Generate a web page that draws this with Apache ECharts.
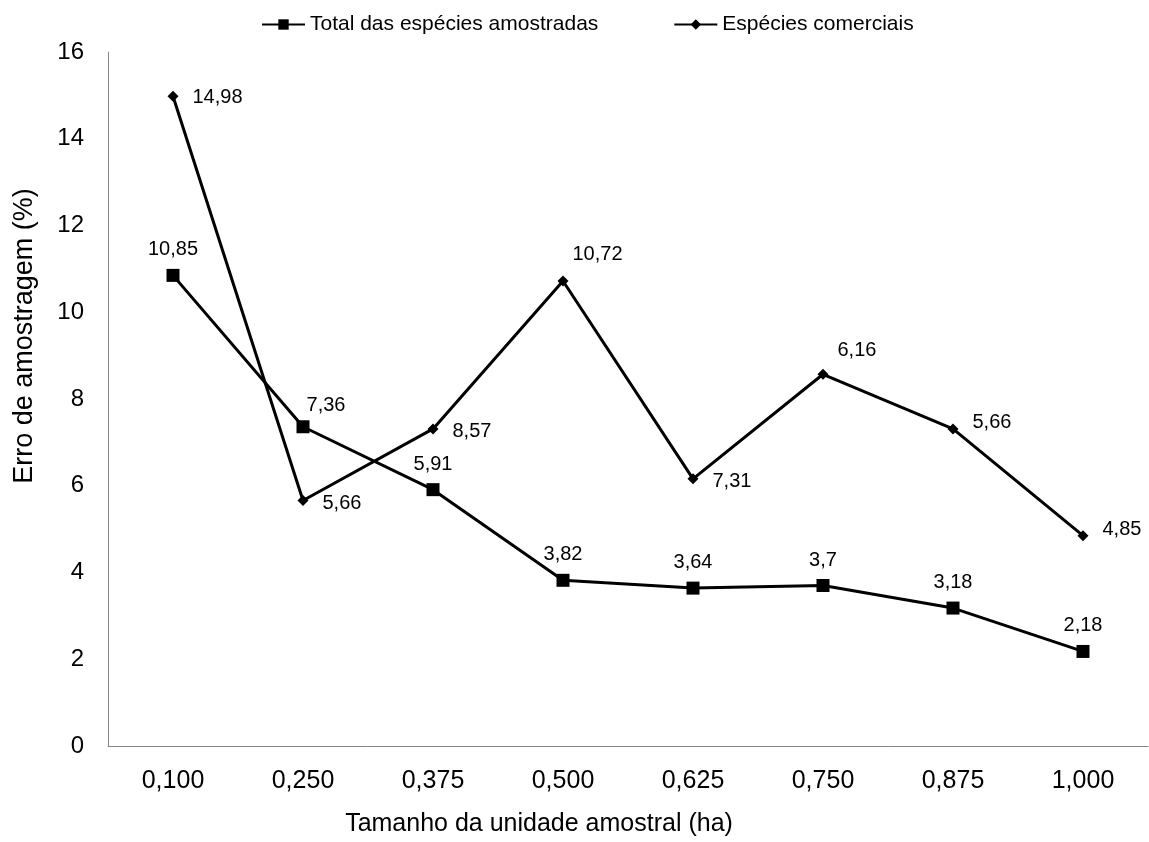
<!DOCTYPE html>
<html><head><meta charset="utf-8">
<script src="https://cdn.jsdelivr.net/npm/echarts@6/dist/echarts.min.js"></script>
<style>html,body{margin:0;padding:0;background:#fff}#c{width:1149px;height:842px}</style>
</head><body><div id="c"></div>
<script>
var categories = ["0,100","0,250","0,375","0,500","0,625","0,750","0,875","1,000"];
var totalValues = [10.85, 7.36, 5.91, 3.82, 3.64, 3.70, 3.18, 2.18];
var totalLabels = ["10,85","7,36","5,91","3,82","3,64","3,7","3,18","2,18"];
var comercialValues = [14.98, 5.66, 7.31, 10.72, 6.16, 8.57, 7.31, 4.85];
var comercialLabels = ["14,98","5,66","8,57","10,72","7,31","6,16","5,66","4,85"];
var yTicks = [0,2,4,6,8,10,12,14,16];

var font = "Liberation Sans, Arial, sans-serif";
var totLabelOffsets = [[0,0],[23,4],[0,0],[0,0],[0,0],[0,0],[0,0],[0,0]];
var comLabelOffsets = [[0,1],[0,3],[0,3],[-10,-27],[0,3],[-5,-24],[0,-6],[0,-6]];

var chart = echarts.init(document.getElementById('c'));
chart.setOption({
  animation: false,
  backgroundColor: '#fff',
  legend: {
    top: 9, left: 256, itemGap: 75, itemWidth: 43, itemHeight: 13,
    textStyle: {fontFamily: font, fontSize: 21, color: '#000'},
    data: ['Total das espécies amostradas', 'Espécies comerciais']
  },
  grid: {left: 108, right: 1, top: 52, bottom: 94, containLabel: false},
  xAxis: {
    type: 'category', data: categories, boundaryGap: true,
    axisLine: {lineStyle: {color: '#868686', width: 1}},
    axisTick: {show: false},
    axisLabel: {fontFamily: font, fontSize: 25, color: '#000', margin: 23},
    name: 'Tamanho da unidade amostral (ha)', nameLocation: 'middle', nameGap: 66,
    nameTextStyle: {fontFamily: font, fontSize: 25, color: '#000', padding: [0, 178, 0, 0]}
  },
  yAxis: {
    type: 'value', min: yTicks[0], max: yTicks[yTicks.length-1], interval: 2,
    axisLine: {show: true, lineStyle: {color: '#868686', width: 1}},
    axisTick: {show: false},
    splitLine: {show: false},
    axisLabel: {fontFamily: font, fontSize: 24, color: '#000', margin: 24},
    name: 'Erro de amostragem (%)', nameLocation: 'middle', nameGap: 70,
    nameTextStyle: {fontFamily: font, fontSize: 27, color: '#000', padding: [0, 0, 0, 126]}
  },
  series: [
    {
      name: 'Total das espécies amostradas', type: 'line',
      data: totalValues.map(function(v, i){
        return {value: v, label: {offset: totLabelOffsets[i]}};
      }),
      symbol: 'rect', symbolSize: 13,
      lineStyle: {color: '#000', width: 3},
      itemStyle: {color: '#000'},
      label: {show: true, position: 'top', distance: 9, fontFamily: font, fontSize: 20, color: '#000',
        formatter: function(p){ return totalLabels[p.dataIndex]; }},
      z: 3
    },
    {
      name: 'Espécies comerciais', type: 'line',
      data: comercialValues.map(function(v, i){
        return {value: v, label: {offset: comLabelOffsets[i]}};
      }),
      symbol: 'diamond', symbolSize: 11,
      lineStyle: {color: '#000', width: 3},
      itemStyle: {color: '#000'},
      label: {show: true, position: 'right', distance: 14, fontFamily: font, fontSize: 20, color: '#000',
        formatter: function(p){ return comercialLabels[p.dataIndex]; }},
      z: 3
    }
  ]
});
</script>
</body></html>
